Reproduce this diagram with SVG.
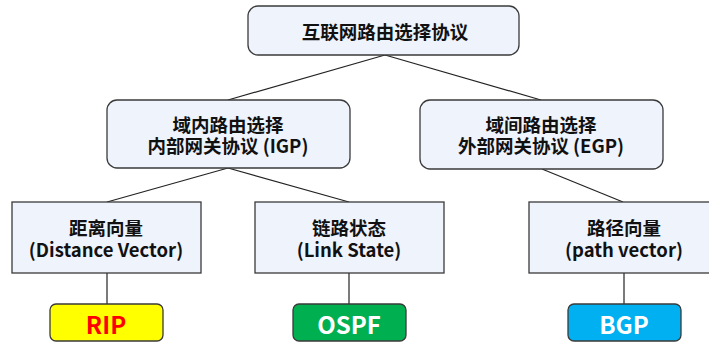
<svg xmlns="http://www.w3.org/2000/svg" width="709" height="342" viewBox="0 0 709 342">
<style>
.box{fill:#EEF3FC;stroke:#3a3a3a;stroke-width:1.3}
.t{font-family:"Noto Sans CJK SC","Microsoft YaHei","Noto Sans",sans-serif;font-weight:bold;font-size:18.5px;fill:#111;text-anchor:middle;dominant-baseline:central}
.big{font-size:24px}
.conn line{stroke:#222;stroke-width:1.2}
.leaf{stroke:#3a3a3a;stroke-width:1.3}
</style>
<rect width="709" height="342" fill="#fff"/>
<g id="connectors" class="conn">
<line x1="385" y1="55" x2="228" y2="100"/>
<line x1="385" y1="55" x2="541" y2="100"/>
<line x1="228" y1="168" x2="107" y2="202"/>
<line x1="228" y1="168" x2="349" y2="202"/>
<line x1="542" y1="169" x2="623" y2="202"/>
<line x1="107" y1="273" x2="107" y2="304"/>
<line x1="349" y1="273" x2="349" y2="304"/>
<line x1="624" y1="273" x2="624" y2="304"/>
</g>
<g id="root">
<rect class="box" x="248" y="6" width="271" height="49" rx="10"/>
<text class="t" x="385" y="31">互联网路由选择协议</text>
</g>
<g id="igp">
<rect class="box" x="107" y="100" width="243" height="68" rx="10"/>
<text class="t" x="228" y="124">域内路由选择</text>
<text class="t" x="228" y="145">内部网关协议 (IGP)</text>
</g>
<g id="egp">
<rect class="box" x="420" y="100" width="243" height="69" rx="10"/>
<text class="t" x="541" y="124">域间路由选择</text>
<text class="t" x="541" y="145">外部网关协议 (EGP)</text>
</g>
<g id="dv">
<rect class="box" x="12" y="202" width="189" height="71"/>
<text class="t" x="106" y="227">距离向量</text>
<text class="t" x="106" y="249">(Distance Vector)</text>
</g>
<g id="ls">
<rect class="box" x="255" y="202" width="189" height="71"/>
<text class="t" x="349" y="227">链路状态</text>
<text class="t" x="349" y="249">(Link State)</text>
</g>
<g id="pv">
<rect class="box" x="529" y="202" width="189" height="71"/>
<text class="t" x="624" y="227">路径向量</text>
<text class="t" x="624" y="249">(path vector)</text>
</g>
<g id="rip">
<rect class="leaf" x="50" y="304" width="113" height="37" rx="6" fill="#FFFF00"/>
<text class="t big" x="106" y="323" style="fill:#FF0000">RIP</text>
</g>
<g id="ospf">
<rect class="leaf" x="293" y="304" width="113" height="37" rx="6" fill="#00B050"/>
<text class="t big" x="349" y="323" style="fill:#fff">OSPF</text>
</g>
<g id="bgp">
<rect class="leaf" x="568" y="304" width="113" height="37" rx="6" fill="#00B0F0"/>
<text class="t big" x="624" y="323" style="fill:#fff">BGP</text>
</g>
</svg>
